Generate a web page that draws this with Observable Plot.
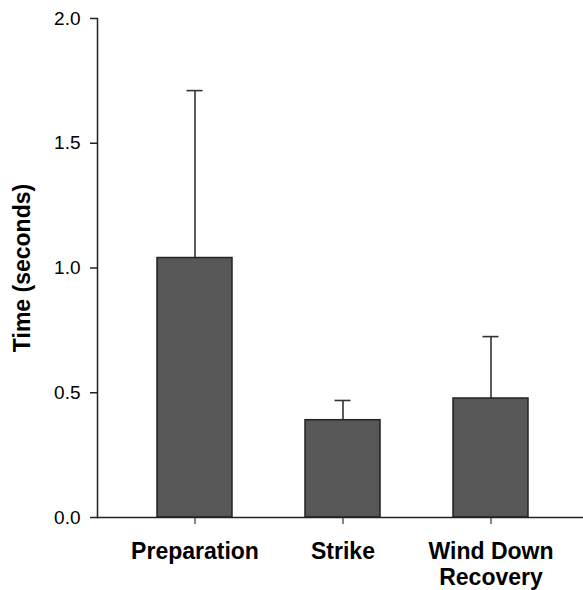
<!DOCTYPE html>
<html>
<head>
<meta charset="utf-8">
<script src="https://cdn.jsdelivr.net/npm/d3@7"></script>
<script src="https://cdn.jsdelivr.net/npm/@observablehq/plot@0.6"></script>
<style>
  html, body { margin: 0; padding: 0; background: #fff; }
  #chart svg { display: block; }
</style>
</head>
<body>
<div id="chart"></div>
<script>
const categories = ["Preparation", "Strike", "Wind Down\nRecovery"];
const means = [1.04, 0.39, 0.477];
const errorTop = [1.711, 0.469, 0.725];
const yTicks = [0, 0.5, 1.0, 1.5, 2.0];

const data = categories.map((c, i) => ({ phase: c, mean: means[i], upper: errorTop[i] }));

const font = "'Liberation Sans', Arial, Helvetica, sans-serif";

const chart = Plot.plot({
  width: 583,
  height: 590,
  marginTop: 18,
  marginBottom: 73,
  marginLeft: 97,
  marginRight: 0,
  style: { fontFamily: font, background: "#fff", color: "#000" },
  x: { domain: categories, range: [97, 587.5], padding: 0.493, paddingOuter: 0.40, label: null },
  y: { domain: [0, 2], label: null },
  marks: [
    Plot.ruleX(data, { x: "phase", y1: "mean", y2: "upper", stroke: "#333", strokeWidth: 1.6 }),
    Plot.tickY(data, { x: "phase", y: "upper", stroke: "#333", strokeWidth: 1.6, insetLeft: 29.5, insetRight: 29.5 }),
    Plot.barY(data, { x: "phase", y: "mean", fill: "#575757", stroke: "#222", strokeWidth: 1.5 }),
    Plot.frame({ anchor: "left", stroke: "#222", strokeWidth: 1.5 }),
    Plot.frame({ anchor: "bottom", stroke: "#222", strokeWidth: 1.5 }),
    Plot.axisY({
      ticks: yTicks, tickFormat: d3.format(".1f"), tickSize: 7, tickPadding: 10,
      fontSize: 19, stroke: "#222", strokeWidth: 1.5,
      label: "Time (seconds)", labelAnchor: "center", labelArrow: "none", labelOffset: 84
    }),
    Plot.axisX({
      tickSize: 7, tickPadding: 17, fontSize: 23, fontWeight: "bold", lineHeight: 1.1,
      stroke: "#333", strokeWidth: 1.2, label: null
    })
  ]
});

chart.querySelectorAll("g[aria-label='y-axis label'] text").forEach(t => {
  t.setAttribute("font-weight", "bold");
  t.setAttribute("font-size", "23");
});

document.getElementById("chart").appendChild(chart);
</script>
</body>
</html>
